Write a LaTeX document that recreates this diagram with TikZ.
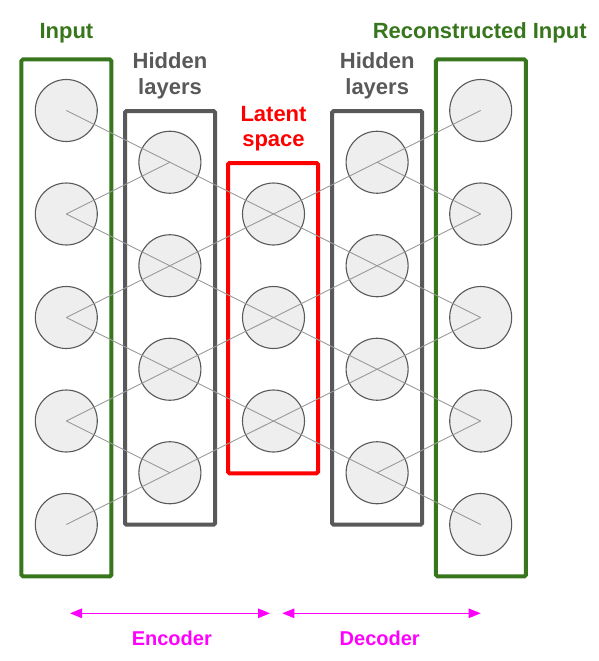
\documentclass[tikz,border=0pt]{standalone}
\usepackage{fontspec}
\setmainfont{Liberation Sans}
\usetikzlibrary{arrows.meta}
\definecolor{ggreen}{HTML}{38761D}
\definecolor{ggray}{HTML}{595959}
\definecolor{nfill}{HTML}{EEEEEE}
\definecolor{linkc}{HTML}{999999}
\definecolor{mag}{HTML}{FF00FF}
\begin{document}
\begin{tikzpicture}[x=1pt,y=-1pt,
  neuron/.style={circle,draw=ggray,fill=nfill,line width=1.1pt,minimum size=62pt,inner sep=0pt},
  layerbox/.style={draw,line width=4pt,rounded corners=1.5pt,minimum width=90pt,inner sep=0pt},
  link/.style={draw=linkc,line width=0.9pt},
  lbl/.style={font=\fontsize{22}{26}\selectfont\bfseries,anchor=base,inner sep=0pt},
  elbl/.style={font=\fontsize{20}{24}\selectfont\bfseries,anchor=base,inner sep=0pt,text=mag},
  span/.style={draw=mag,line width=1.2pt,{Triangle[length=12pt,width=9.5pt]}-{Triangle[length=12pt,width=9.5pt]}}
]
\useasboundingbox (0,0) rectangle (599,661);
% boxes
\node[layerbox,draw=ggreen,minimum height=516.8pt] (bin) at (66.4,317.9) {};
\node[layerbox,draw=ggray,minimum height=413.7pt] (bh1) at (170,317.85) {};
\node[layerbox,draw=red,minimum height=310.3pt] (blat) at (273,318.15) {};
\node[layerbox,draw=ggray,minimum height=413.7pt] (bh2) at (377.2,317.85) {};
\node[layerbox,draw=ggreen,minimum height=516.8pt] (bout) at (480.9,317.9) {};
% neurons
\foreach \r in {0,2,4,6,8} {
  \node[neuron] (i\r) at (66.3,110.5+51.75*\r) {};
  \node[neuron] (o\r) at (480.7,110.5+51.75*\r) {};
}
\foreach \r in {1,3,5,7} {
  \node[neuron] (h\r) at (169.9,110.5+51.75*\r) {};
  \node[neuron] (g\r) at (377.1,110.5+51.75*\r) {};
}
\foreach \r in {2,4,6} {
  \node[neuron] (l\r) at (273.5,110.5+51.75*\r) {};
}
% links
\foreach \a/\b in {i0/h1,i2/h1,i2/h3,i4/h3,i4/h5,i6/h5,i6/h7,i8/h7,
                   h1/l2,h3/l2,h3/l4,h5/l4,h5/l6,h7/l6,
                   l2/g1,l2/g3,l4/g3,l4/g5,l6/g5,l6/g7,
                   g1/o0,g1/o2,g3/o2,g3/o4,g5/o4,g5/o6,g7/o6,g7/o8}
  \draw[link] (\a.center) -- (\b.center);
% labels
\node[lbl,text=ggreen] (tin) at (66.4,39) {Input};
\node[lbl,text=ggreen] (tout) at (479.7,38.5) {Reconstructed Input};
\node[lbl,text=ggray] (th1a) at (170,69) {Hidden};
\node[lbl,text=ggray] (th1b) at (170,95) {layers};
\node[lbl,text=ggray] (th2a) at (377.2,69) {Hidden};
\node[lbl,text=ggray] (th2b) at (377.2,95) {layers};
\node[lbl,text=red] (tla) at (273.5,121) {Latent};
\node[lbl,text=red] (tlb) at (273.5,146.5) {space};
% encoder / decoder
\coordinate (e1) at (70,613.3);
\coordinate (e2) at (270,613.3);
\coordinate (d1) at (282.3,613.3);
\coordinate (d2) at (480.7,613.3);
\draw[span] (e1) -- (e2);
\draw[span] (d1) -- (d2);
\node[elbl] (tenc) at (171.8,645) {Encoder};
\node[elbl] (tdec) at (379.7,645) {Decoder};
\end{tikzpicture}
\end{document}
